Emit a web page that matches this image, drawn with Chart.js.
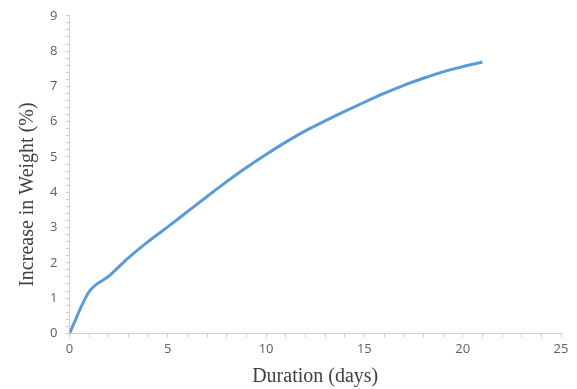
<!DOCTYPE html>
<html>
<head>
<meta charset="utf-8">
<script src="https://cdn.jsdelivr.net/npm/chart.js@4"></script>
<style>
  html, body { margin: 0; padding: 0; background: #fff; }
  #wrap { width: 577px; height: 389px; }
</style>
</head>
<body>
<div id="wrap"><canvas id="weightChart"></canvas></div>
<script>
// Duration (days) and weight increase (%)
const days = [0, 1, 2, 3, 4, 5, 6, 7, 8, 9, 10, 11, 12, 13, 14, 15, 16, 17, 18, 19, 20, 21];
const weightGain = [0, 1.18, 1.62, 2.14, 2.6, 3.02, 3.45, 3.88, 4.3, 4.7, 5.07, 5.42, 5.74, 6.02, 6.29, 6.55, 6.8, 7.03, 7.23, 7.41, 7.56, 7.69];

const xLabelStep = 5;
const yLabelStep = 1;
const yTitle = 'Increase in Weight (%)';

const points = days.map((d, i) => ({ x: d, y: weightGain[i] }));

const axisGray = '#d0d0d0';
const labelGray = '#606060';
const titleFont = { family: 'Liberation Serif', size: 20 };

// y title is laid out by Chart.js (invisible) and painted a bit lower, like the original
const yTitlePlugin = {
  id: 'yTitle',
  afterDraw(chart) {
    const ctx = chart.ctx;
    const y = chart.scales.y;
    ctx.save();
    ctx.font = titleFont.size + 'px ' + titleFont.family;
    ctx.fillStyle = '#404040';
    ctx.textAlign = 'center';
    ctx.textBaseline = 'middle';
    ctx.translate(y.left + 18, (y.top + y.bottom) / 2 + 20);
    ctx.rotate(-Math.PI / 2);
    ctx.fillText(yTitle, 0, 0);
    ctx.restore();
  }
};

new Chart(document.getElementById('weightChart'), {
  type: 'line',
  data: {
    datasets: [{
      label: 'Increase in Weight',
      data: points,
      borderColor: '#5b9bd5',
      borderWidth: 3,
      pointRadius: 0,
      cubicInterpolationMode: 'monotone',
      fill: false
    }]
  },
  options: {
    responsive: true,
    maintainAspectRatio: false,
    animation: false,
    layout: { padding: { top: 12, right: 16, left: 10, bottom: 0 } },
    plugins: {
      legend: { display: false },
      tooltip: { enabled: false }
    },
    scales: {
      x: {
        type: 'linear',
        min: 0,
        max: 25,
        border: { color: axisGray, width: 1 },
        grid: { drawOnChartArea: false, color: axisGray, tickLength: 4 },
        ticks: {
          stepSize: 1,
          autoSkip: false,
          maxRotation: 0,
          color: labelGray,
          font: { family: 'Open Sans', size: 13 },
          padding: 4,
          callback: (v) => (v % xLabelStep === 0 ? v : '')
        },
        title: {
          display: true,
          text: 'Duration (days)',
          color: '#404040',
          font: titleFont,
          padding: { top: 4, bottom: 0 }
        }
      },
      y: {
        min: 0,
        max: 9,
        border: { color: axisGray, width: 1 },
        grid: { drawOnChartArea: false, color: axisGray, tickLength: 4 },
        ticks: {
          stepSize: 0.2,
          autoSkip: false,
          color: labelGray,
          font: { family: 'Open Sans', size: 13 },
          padding: 8,
          callback: (v) => (Math.abs(v / yLabelStep - Math.round(v / yLabelStep)) < 1e-6 ? Math.round(v) : '')
        },
        title: {
          display: true,
          text: yTitle,
          color: 'rgba(0,0,0,0)',
          font: titleFont,
          padding: { top: 0, bottom: 8 }
        }
      }
    }
  },
  plugins: [yTitlePlugin]
});
</script>
</body>
</html>
